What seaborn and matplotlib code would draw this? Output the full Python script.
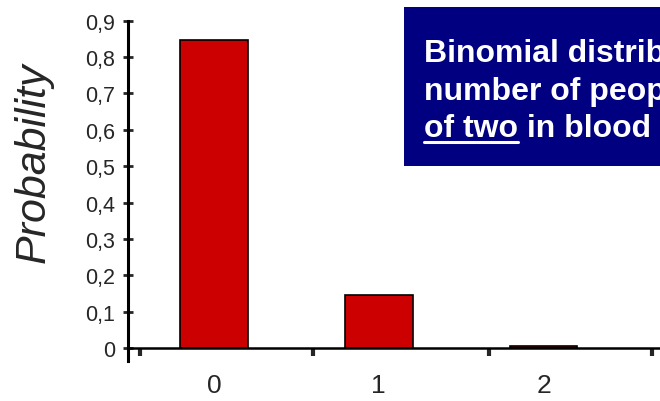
import matplotlib
matplotlib.use("Agg")
import matplotlib.pyplot as plt
import seaborn as sns

# ---------------------------------------
# Data
# ---------------------------------------
outcomes = ["0", "1", "2"]
probs = [0.846, 0.147, 0.007]

y_ticks = [0, 0.1, 0.2, 0.3, 0.4, 0.5, 0.6, 0.7, 0.8, 0.9]
y_tick_labels = ["0", "0,1", "0,2", "0,3", "0,4", "0,5", "0,6", "0,7", "0,8", "0,9"]
x_tick_marks = [-0.45, 0.6, 1.67, 2.66]

title_lines = ["Binomial distribution of", "number of people out", "of two in blood group"]
underlined = "of two"

# ---------------------------------------
# Theme
# ---------------------------------------
sns.set_style("white")
plt.rcParams["font.family"] = ["Liberation Sans", "DejaVu Sans"]

fig = plt.figure(figsize=(6.6, 4.02), dpi=100)
ax = fig.add_axes([0.194, 0.0995, 0.806, 0.8465])

sns.barplot(
    x=outcomes,
    y=probs,
    color="#cc0000",
    saturation=1,
    edgecolor="black",
    linewidth=1.2,
    width=0.41,
    ax=ax,
)

ax.set_xlim(-0.522, 2.707)
ax.set_ylim(-0.035, 0.9)

# axes styling
for side in ["top", "right"]:
    ax.spines[side].set_visible(False)
ax.spines["left"].set_linewidth(2.2)
ax.spines["left"].set_color("black")
ax.spines["bottom"].set_position(("data", 0))
ax.spines["bottom"].set_linewidth(1.8)
ax.spines["bottom"].set_color("black")

ax.set_yticks(y_ticks)
ax.set_yticklabels(y_tick_labels)
ax.tick_params(axis="y", direction="inout", length=7, width=2, pad=6,
               labelsize=15.5, left=True)

ax.set_xticks(range(len(outcomes)))
ax.set_xticklabels(outcomes)
ax.tick_params(axis="x", which="major", length=0, pad=18, labelsize=19)
ax.set_xticks(x_tick_marks, minor=True)
ax.tick_params(axis="x", which="minor", direction="out", length=6, width=3,
               bottom=True)

ax.set_xlabel("")
ax.set_ylabel("Probability", fontsize=31, style="italic")
ax.yaxis.set_label_coords(-0.139, 0.585)

# ---------------------------------------
# Title box
# ---------------------------------------
box = plt.Rectangle((404 / 660, 1 - 167 / 402), 0.5, 159 / 402,
                    transform=fig.transFigure, facecolor="#000080",
                    edgecolor="none", zorder=5)
fig.patches.append(box)

x0 = 424 / 660
baselines = [62, 100, 137]
for line, yb in zip(title_lines, baselines):
    fig.text(x0, 1 - yb / 402, line, color="white", fontsize=23,
             fontweight="bold", va="baseline", ha="left", zorder=6)

# underline under "of two"
probe = fig.text(x0, 1 - baselines[2] / 402, underlined, fontsize=23,
                 fontweight="bold", va="baseline", ha="left", alpha=0)
fig.canvas.draw()
bb = probe.get_window_extent().transformed(fig.transFigure.inverted())
uy = 1 - 143 / 402
fig.add_artist(plt.Line2D([bb.x0, bb.x1], [uy, uy], color="white",
                          linewidth=2.2, transform=fig.transFigure, zorder=7))

fig.savefig("out.png", dpi=100)
